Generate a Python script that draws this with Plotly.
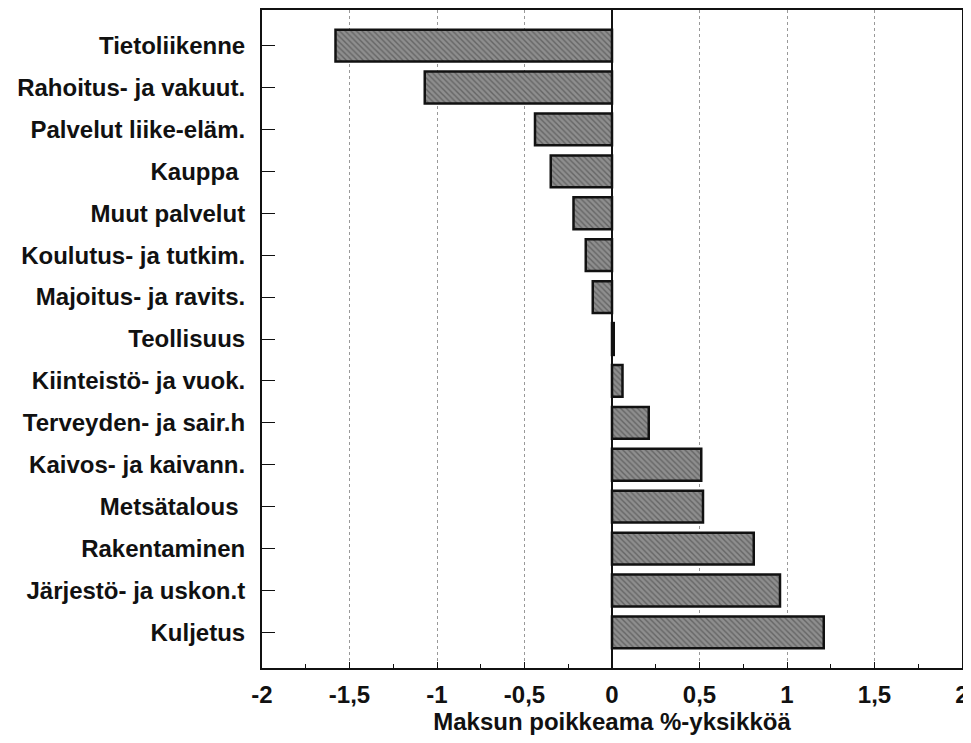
import plotly.graph_objects as go

categories = ["Tietoliikenne", "Rahoitus- ja vakuut.", "Palvelut liike-eläm.", "Kauppa ",
              "Muut palvelut", "Koulutus- ja tutkim.", "Majoitus- ja ravits.", "Teollisuus",
              "Kiinteistö- ja vuok.", "Terveyden- ja sair.h", "Kaivos- ja kaivann.",
              "Metsätalous ", "Rakentaminen", "Järjestö- ja uskon.t", "Kuljetus"]
values = [-1.58, -1.07, -0.44, -0.35, -0.22, -0.15, -0.11, 0.01,
          0.06, 0.21, 0.51, 0.52, 0.81, 0.96, 1.21]
x_ticks = [-2, -1.5, -1, -0.5, 0, 0.5, 1, 1.5, 2]
x_tick_labels = ["-2", "-1,5", "-1", "-0,5", "0", "0,5", "1", "1,5", "2"]
x_title = "Maksun poikkeama %-yksikköä"

font_family = "Liberation Sans, Arial, sans-serif"
fs = 24

fig = go.Figure()
fig.add_trace(go.Bar(
    x=values, y=categories, orientation="h", width=0.76,
    marker=dict(color="#8e8e8e", line=dict(color="#111111", width=2.5),
                pattern=dict(shape="\\", fgcolor="#3c3c3c", size=4, solidity=0.35)),
    showlegend=False,
))

# page body has an 8px default margin, so the figure is sized/offset to compensate
fig.update_layout(
    width=963, height=735,
    margin=dict(l=254, r=9, t=2, b=75),
    paper_bgcolor="white", plot_bgcolor="white",
    font=dict(family=font_family, color="#111111", size=fs),
)
fig.update_xaxes(
    range=[-2, 2], tickvals=x_ticks, ticktext=x_tick_labels,
    tickfont=dict(size=fs, family=font_family, weight="bold"),
    showline=True, linecolor="#111111", linewidth=2, mirror=True,
    ticks="inside", ticklen=6, tickcolor="#111111", tickwidth=1,
    minor=dict(dtick=0.25, ticks="inside", ticklen=4, tickcolor="#111111", showgrid=False),
    showgrid=True, gridcolor="#999999", griddash="dot", gridwidth=1,
    zeroline=True, zerolinecolor="#111111", zerolinewidth=2,
    title=dict(text=x_title, font=dict(size=fs, family=font_family, weight="bold"), standoff=4),
    ticklabelstandoff=4,
    automargin=False,
)
fig.update_yaxes(
    categoryorder="array", categoryarray=categories, autorange=False,
    range=[len(categories) - 1 + 0.85, -0.85],
    tickfont=dict(size=fs, family=font_family, weight="bold"),
    showline=True, linecolor="#111111", linewidth=2, mirror=True,
    ticks="inside", ticklen=13, tickcolor="#111111", tickwidth=1,
    showgrid=False, ticklabelstandoff=10,
    automargin=False,
)

fig.write_html("out.html")
